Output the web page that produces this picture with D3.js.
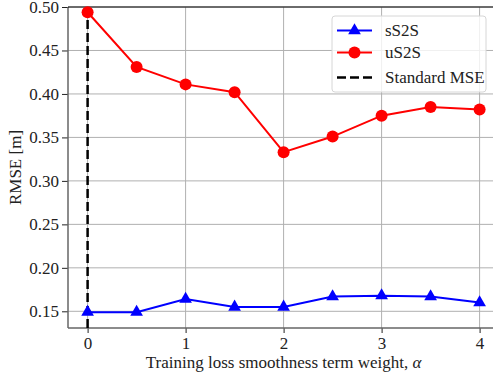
<!DOCTYPE html>
<html>
<head>
<meta charset="utf-8">
<script src="https://cdn.jsdelivr.net/npm/d3@7"></script>
<style>
  body { margin: 0; background: #fff; }
</style>
</head>
<body>
<div id="chart"></div>
<script>
// values
var alphas = [0, 0.5, 1, 1.5, 2, 2.5, 3, 3.5, 4];
var sS2S = [0.149, 0.149, 0.164, 0.155, 0.155, 0.167, 0.168, 0.167, 0.160];
var uS2S = [0.494, 0.431, 0.411, 0.402, 0.333, 0.351, 0.375, 0.385, 0.382];
var standardAlpha = 0;
var xTicks = [0, 1, 2, 3, 4];
var yTicks = [0.15, 0.20, 0.25, 0.30, 0.35, 0.40, 0.45, 0.50];
var legendNames = ["sS2S", "uS2S", "Standard MSE"];

var serif = "'Liberation Serif', 'Times New Roman', 'DejaVu Serif', serif";
var fs = 17;

var width = 493,
    height = 376,
    margin = {top: 7, right: 0, bottom: 48, left: 68};

var svg = d3.select("#chart")
            .append("svg")
            .attr("width", width)
            .attr("height", height)
            .style("font-family", serif);

var x = d3.scaleLinear()
          .domain([-0.2, 4.2])
          .range([margin.left, margin.left + 4.4 * 98]);

var y = d3.scaleLinear()
          .domain([0.1308, 0.50])
          .range([height - margin.bottom, margin.top]);

var g = svg.append("g");

/* grid */
g.selectAll(".vgrid")
    .data(xTicks)
    .enter().append("line")
    .attr("x1", function(d) { return x(d); })
    .attr("x2", function(d) { return x(d); })
    .attr("y1", y.range()[0])
    .attr("y2", y.range()[1])
    .attr("stroke", "#b0b0b0")
    .attr("stroke-width", 1);

g.selectAll(".hgrid")
    .data(yTicks)
    .enter().append("line")
    .attr("x1", margin.left)
    .attr("x2", width)
    .attr("y1", function(d) { return y(d); })
    .attr("y2", function(d) { return y(d); })
    .attr("stroke", "#b0b0b0")
    .attr("stroke-width", 1);

/* axes */
var xAxis = d3.axisBottom(x).tickValues(xTicks).tickSize(5).tickPadding(4)
              .tickFormat(d3.format("d"));
var yAxis = d3.axisLeft(y).tickValues(yTicks).tickSize(6).tickPadding(3)
              .tickFormat(d3.format(".2f"));

var gx = svg.append("g")
    .attr("transform", "translate(0," + (height - margin.bottom) + ")")
    .call(xAxis)
    .attr("font-family", null);
gx.select(".domain").remove();
gx.append("line")
    .attr("x1", margin.left).attr("x2", width)
    .attr("stroke", "#666").attr("stroke-width", 1.5);
gx.selectAll(".tick line").attr("stroke", "#222");
gx.selectAll("text").attr("font-size", fs).attr("fill", "#222")
    .style("font-family", serif);

var gy = svg.append("g")
    .attr("transform", "translate(" + margin.left + ",0)")
    .call(yAxis)
    .attr("font-family", null);
gy.select(".domain").remove();
gy.append("line")
    .attr("y1", y.range()[0]).attr("y2", y.range()[1])
    .attr("stroke", "#666").attr("stroke-width", 1.5);
gy.selectAll(".tick line").attr("stroke", "#222");
gy.selectAll("text").attr("font-size", fs).attr("fill", "#222")
    .style("font-family", serif);

/* top spine */
svg.append("line")
    .attr("x1", margin.left).attr("x2", width)
    .attr("y1", margin.top).attr("y2", margin.top)
    .attr("stroke", "#000").attr("stroke-width", 1.2);

/* standard MSE marker line */
svg.append("line")
    .attr("x1", x(standardAlpha)).attr("x2", x(standardAlpha))
    .attr("y1", y.range()[1]).attr("y2", y.range()[0])
    .attr("stroke", "#000")
    .attr("stroke-width", 2.5)
    .attr("stroke-dasharray", "9,4");

var line = d3.line()
             .x(function(d) { return x(d[0]); })
             .y(function(d) { return y(d[1]); });

var sData = d3.zip(alphas, sS2S);
var uData = d3.zip(alphas, uS2S);

svg.append("path")
    .datum(sData)
    .attr("d", line)
    .attr("fill", "none")
    .attr("stroke", "#0000ff")
    .attr("stroke-width", 2);

var tri = d3.symbol().type(d3.symbolTriangle).size(70);

svg.selectAll(".tri")
    .data(sData)
    .enter().append("path")
    .attr("d", tri)
    .attr("transform", function(d) { return "translate(" + x(d[0]) + "," + y(d[1]) + ")"; })
    .attr("fill", "#0000ff");

svg.append("path")
    .datum(uData)
    .attr("d", line)
    .attr("fill", "none")
    .attr("stroke", "#ff0000")
    .attr("stroke-width", 2);

svg.selectAll(".dot")
    .data(uData)
    .enter().append("circle")
    .attr("cx", function(d) { return x(d[0]); })
    .attr("cy", function(d) { return y(d[1]); })
    .attr("r", 6)
    .attr("fill", "#ff0000");

/* legend */
var leg = svg.append("g");
leg.append("rect")
    .attr("x", 332).attr("y", 16)
    .attr("width", 154).attr("height", 76)
    .attr("rx", 3)
    .attr("fill", "#fff").attr("fill-opacity", 0.8)
    .attr("stroke", "#d6d6d6");

var rows = [30.5, 52.5, 77.5];
legendNames.forEach(function(name, i) {
    var ry = rows[i];
    var ln = leg.append("line")
        .attr("x1", 337).attr("x2", 372)
        .attr("y1", ry).attr("y2", ry)
        .attr("stroke-width", 2);
    if (i === 0) {
        ln.attr("stroke", "#0000ff");
        leg.append("path").attr("d", tri)
            .attr("transform", "translate(354.5," + ry + ")")
            .attr("fill", "#0000ff");
    } else if (i === 1) {
        ln.attr("stroke", "#ff0000");
        leg.append("circle").attr("cx", 354.5).attr("cy", ry).attr("r", 6)
            .attr("fill", "#ff0000");
    } else {
        ln.attr("stroke", "#000").attr("stroke-width", 2.5)
          .attr("stroke-dasharray", "9,4");
    }
    leg.append("text")
        .attr("x", 385).attr("y", ry)
        .attr("dy", "0.35em")
        .attr("font-size", fs)
        .attr("fill", "#222")
        .style("font-family", serif)
        .text(name);
});

/* axis labels */
svg.append("text")
    .attr("x", x(2))
    .attr("y", 368)
    .attr("text-anchor", "middle")
    .attr("font-size", fs)
    .attr("fill", "#222")
    .style("font-family", serif)
    .text("Training loss smoothness term weight, ")
    .append("tspan")
    .attr("font-style", "italic")
    .text("α");

svg.append("text")
    .attr("transform", "translate(21," + ((y.range()[0] + y.range()[1]) / 2) + ") rotate(-90)")
    .attr("text-anchor", "middle")
    .attr("font-size", fs)
    .attr("fill", "#222")
    .style("font-family", serif)
    .text("RMSE [m]");
</script>
</body>
</html>
